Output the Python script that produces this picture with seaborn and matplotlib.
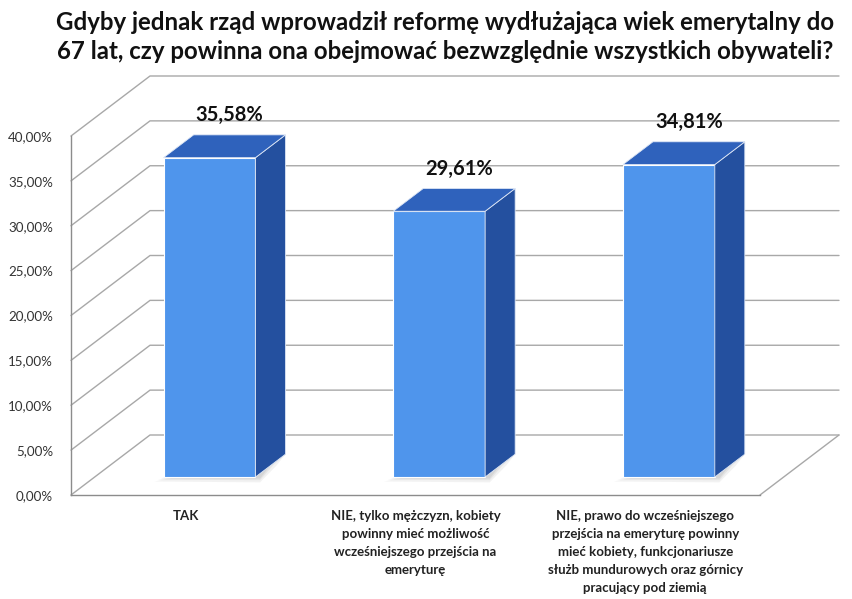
import matplotlib
matplotlib.use("Agg")
import numpy as np
import pandas as pd
import matplotlib.pyplot as plt
import seaborn as sns
from matplotlib.patches import Polygon

# dane z wykresu
categories = [
    "TAK",
    "NIE, tylko mężczyzn, kobiety\npowinny mieć możliwość\nwcześniejszego przejścia na\nemeryturę",
    "NIE, prawo do wcześniejszego\nprzejścia na emeryturę powinny\nmieć kobiety, funkcjonariusze\nsłużb mundurowych oraz górnicy\npracujący pod ziemią",
]
values = [35.58, 29.61, 34.81]
value_labels = ["35,58%", "29,61%", "34,81%"]
yticks = [0, 5, 10, 15, 20, 25, 30, 35, 40]
ytick_labels = ["0,00%", "5,00%", "10,00%", "15,00%", "20,00%",
                "25,00%", "30,00%", "35,00%", "40,00%"]
title = ("Gdyby jednak rząd wprowadził reformę wydłużająca wiek emerytalny do\n"
         "67 lat, czy powinna ona obejmować bezwzględnie wszystkich obywateli?")

FRONT = "#4F95EC"
TOP = "#2F62BC"
SIDE = "#24509F"
GRID = "#A8A8A8"

sns.set_style("white")
plt.rcParams['font.family'] = ['Lato', 'DejaVu Sans']

W, H = 852, 599
fig = plt.figure(figsize=(W / 100, H / 100), dpi=100)
ax = fig.add_axes([71 / W, (H - 495) / H, (760 - 71) / W, (495 - 136) / H])

df = pd.DataFrame({"odp": categories, "pct": values})
sns.barplot(data=df, x="odp", y="pct", width=0.4, color=FRONT, saturation=1,
            edgecolor="white", linewidth=0.8, ax=ax, zorder=3)
ax.set_xlim(-0.5, 2.5)
ax.set_ylim(0, 40)

# glebokosc "3D" w jednostkach danych (79 px w prawo, 60 px w gore)
DX = 79 / ((760 - 71) / 3)
DY = 60 / ((495 - 136) / 40)
f0, fd = 0.30, 0.38   # polozenie frontu slupka i jego glebokosc

# siatka na tylnej scianie + podloga
for yv in yticks:
    ax.plot([-0.5, -0.5 + DX, 2.5 + DX], [yv, yv + DY, yv + DY],
            color=GRID, lw=1, clip_on=False, zorder=1)
ax.plot([2.5, 2.5 + DX], [0, DY], color=GRID, lw=1, clip_on=False, zorder=1)

# slupki 3D
for p in ax.patches[:len(values)]:
    x0 = p.get_x() + f0 * DX
    y0 = f0 * DY
    w, h = p.get_width(), p.get_height()
    p.set_x(x0)
    p.set_y(y0)
    p.set_clip_on(False)
    ddx, ddy = fd * DX, fd * DY
    # miekki cien pod slupkiem
    for k, a in [(1.0, 0.12), (0.6, 0.15), (0.3, 0.2)]:
        ax.add_patch(Polygon([(x0 - 0.04 * k, y0 - 0.5 * k), (x0 + w + 0.02, y0 - 0.6 * k),
                              (x0 + w + ddx * (0.4 + 0.3 * k), y0 + ddy * 0.5),
                              (x0 + w + ddx, y0 + ddy)],
                             closed=True, facecolor="#9A9A9A", edgecolor="none",
                             alpha=a, clip_on=False, zorder=2))
    ax.add_patch(Polygon([(x0 + w, y0), (x0 + w + ddx, y0 + ddy),
                          (x0 + w + ddx, y0 + h + ddy), (x0 + w, y0 + h)],
                         closed=True, facecolor=SIDE, edgecolor="#DDE6F5", lw=0.6,
                         clip_on=False, zorder=3))
    ax.add_patch(Polygon([(x0, y0 + h), (x0 + w, y0 + h),
                          (x0 + w + ddx, y0 + h + ddy), (x0 + ddx, y0 + h + ddy)],
                         closed=True, facecolor=TOP, edgecolor="#DDE6F5", lw=0.6,
                         clip_on=False, zorder=3))

for i, (v, lab) in enumerate(zip(values, value_labels)):
    ax.text(i + 0.19, v + 5.6, lab, ha="center", va="bottom",
            fontsize=14.5, fontweight="bold", color="#111111", zorder=5)

# osie
for s in ["top", "right"]:
    ax.spines[s].set_visible(False)
for s in ["left", "bottom"]:
    ax.spines[s].set_color("#8C8C8C")
    ax.spines[s].set_linewidth(1)
ax.set_yticks(yticks)
ax.set_yticklabels(ytick_labels)
ax.tick_params(axis="y", length=4, width=1, color="#8C8C8C", pad=9,
               labelsize=9.6, labelcolor="#333333")
ax.set_xticks([0, 1, 2])
ax.set_xticklabels(categories, fontweight="bold", fontsize=9.5,
                   linespacing=1.6, color="#222222")
ax.tick_params(axis="x", length=0, pad=11)
ax.set_xticks([0.5, 1.5, 2.5], minor=True)
ax.tick_params(axis="x", which="minor", length=4, width=1, color="#8C8C8C")
ax.set_xlabel("")
ax.set_ylabel("")

fig.text(445 / W, 1 - 11 / H, title, ha="center", va="top", fontsize=17.3,
         fontweight="bold", linespacing=1.3, color="#111111")

fig.savefig("out.png", dpi=100, facecolor="white")
